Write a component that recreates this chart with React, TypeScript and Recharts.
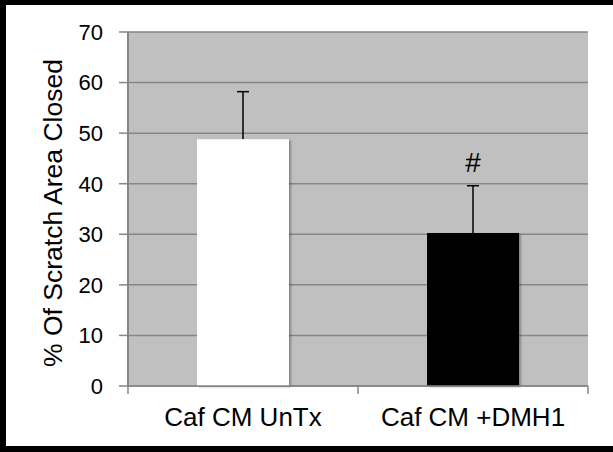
import React from 'react';
import { ComposedChart, Bar, Line, LabelList, XAxis, YAxis, CartesianGrid, Cell, Label } from 'recharts';

// Reference values
const categories = ['Caf CM UnTx', 'Caf CM +DMH1'];
const closedPct = [48.8, 30.25];
const closedErr = [9.4, 9.35];
const significance = ['', '#'];
const barColors = ['#ffffff', '#000000'];
const yTicks = [0, 10, 20, 30, 40, 50, 60, 70];

const data = categories.map((name, i) => ({
    name,
    value: closedPct[i],
    err: closedErr[i],
    top: closedPct[i] + closedErr[i],
    sig: significance[i],
}));

const FONT = '"Liberation Sans", Arial, sans-serif';
const GRID = '#868686';

const XTick = (props: any) => {
    const { x, y, payload, index, visibleTicksCount } = props;
    const half = payload && payload.offset ? payload.offset : 115;
    const last = index === visibleTicksCount - 1;
    return (
        <g>
            <line x1={x - half} x2={x - half} y1={y} y2={y + 8} stroke={GRID} strokeWidth={1.5} />
            {last && <line x1={x + half} x2={x + half} y1={y} y2={y + 8} stroke={GRID} strokeWidth={1.5} />}
            <text x={x} y={y + 40} textAnchor="middle" fontSize={26} fontFamily={FONT} fill="#000">
                {payload.value}
            </text>
        </g>
    );
};

const YLabel = ({ viewBox }: any) => {
    const cx = 62;
    const cy = viewBox.y + viewBox.height / 2 + 4;
    return (
        <text x={cx} y={cy} transform={`rotate(-90 ${cx} ${cy})`} textAnchor="middle" fontSize={26.5} fontFamily={FONT} fill="#000">
            % Of Scratch Area Closed
        </text>
    );
};

// bar with its (upper) error whisker drawn behind it; whisker length scaled from the bar's own height
const BarWithError = (props: any) => {
    const { x, y, width, height, fill, payload } = props;
    const pxPerUnit = height / payload.value;
    const errTop = y - payload.err * pxPerUnit;
    const cx = x + width / 2;
    return (
        <g>
            <line x1={cx} x2={cx} y1={y} y2={errTop} stroke="#000" strokeWidth={1.5} />
            <line x1={cx - 6} x2={cx + 6} y1={errTop} y2={errTop} stroke="#000" strokeWidth={1.5} />
            <rect x={x} y={y} width={width} height={height} fill={fill} filter="url(#barShadow)" />
        </g>
    );
};

export default function App() {
    return (
        <div style={{ position: 'absolute', left: 0, top: 0, width: 613, height: 452, background: '#fff' }}>
            <div
                style={{
                    position: 'absolute', left: 0, top: 0, width: 613, height: 452, boxSizing: 'border-box',
                    borderLeft: '6px solid #000', borderTop: '5px solid #000', borderBottom: '6px solid #000',
                }}
            />
            <div style={{ position: 'absolute', left: 0, top: 0 }}>
                <ComposedChart
                    width={613}
                    height={452}
                    data={data}
                    margin={{ top: 32, right: 25, left: 0, bottom: 26 }}
                    barCategoryGap="30%"
                >
                    <defs>
                        <filter id="barShadow" x="-10%" y="-10%" width="130%" height="130%">
                            <feDropShadow dx={2} dy={1} stdDeviation={1.2} floodColor="#000" floodOpacity={0.3} />
                        </filter>
                    </defs>
                    <CartesianGrid vertical={false} stroke={GRID} strokeWidth={1.5} fill="#c0c0c0" fillOpacity={1} />
                    <XAxis
                        dataKey="name"
                        height={40}
                        axisLine={{ stroke: GRID, strokeWidth: 1.5 }}
                        tickLine={false}
                        tickSize={0}
                        tickMargin={0}
                        interval={0}
                        tick={<XTick />}
                    />
                    <YAxis
                        width={128}
                        domain={[0, 70]}
                        ticks={yTicks}
                        interval={0}
                        axisLine={{ stroke: GRID, strokeWidth: 2 }}
                        tickLine={{ stroke: GRID, strokeWidth: 1.5 }}
                        tickSize={9}
                        tickMargin={16}
                        tick={{ fontSize: 22, fill: '#000', fontFamily: FONT }}
                    >
                        <Label content={<YLabel />} />
                    </YAxis>
                    <Bar dataKey="value" isAnimationActive={false} shape={<BarWithError />}>
                        {data.map((d, i) => (
                            <Cell key={d.name} fill={barColors[i]} />
                        ))}
                    </Bar>
                    <Line dataKey="top" stroke="none" dot={false} activeDot={false} isAnimationActive={false}>
                        <LabelList dataKey="sig" position="top" offset={14} fontSize={28} fontFamily={FONT} fill="#000" />
                    </Line>
                </ComposedChart>
            </div>
        </div>
    );
}
